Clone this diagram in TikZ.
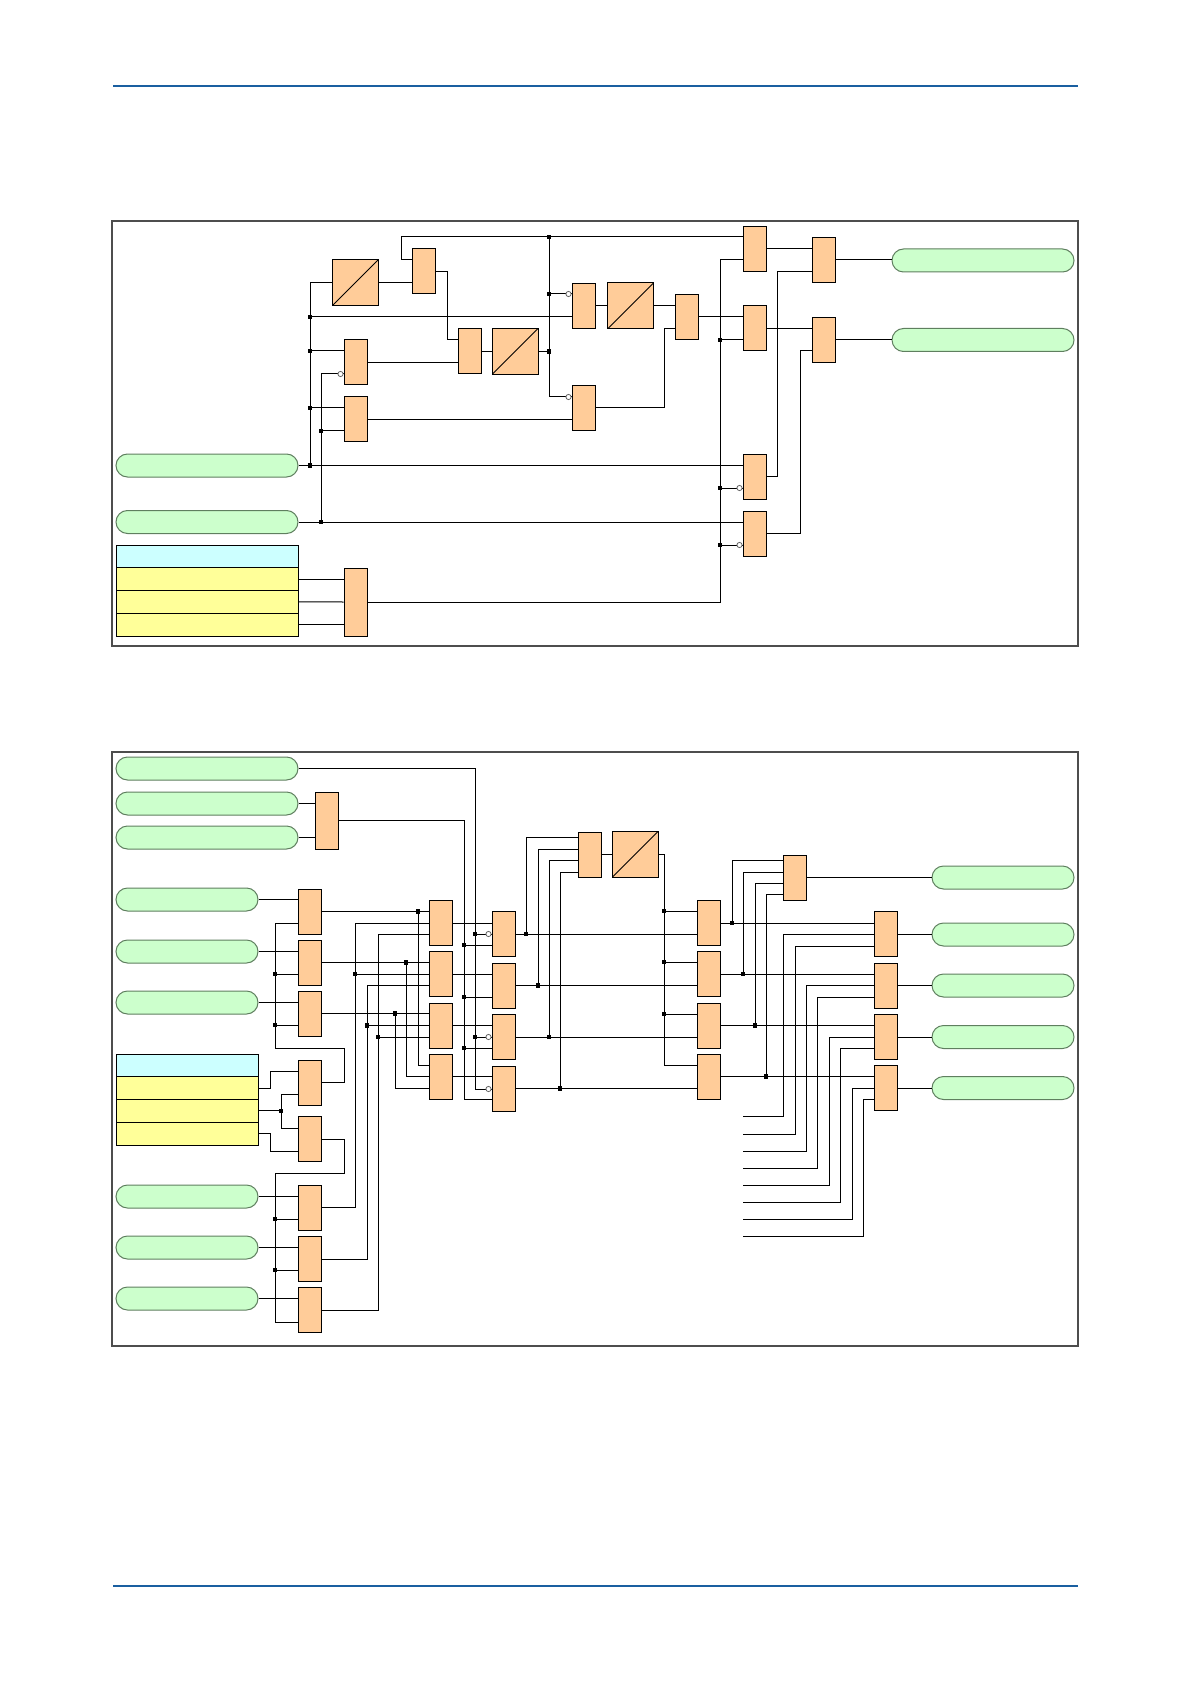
\documentclass[tikz,border=0pt]{standalone}
\usepackage{tikz}
\usetikzlibrary{positioning, shapes.misc}
\usepackage{xcolor}
\definecolor{gatefill}{HTML}{FFCC99}
\definecolor{pillfill}{HTML}{CCFFCC}
\definecolor{pillline}{HTML}{5F7F5F}
\definecolor{headfill}{HTML}{CCFFFF}
\definecolor{rowfill}{HTML}{FFFF99}
\definecolor{rulecol}{HTML}{1A5FA0}
\definecolor{framecol}{HTML}{4D4D4D}

\begin{document}
\begin{tikzpicture}[x=0.5pt, y=-0.5pt, line width=0.5pt,
	gate/.style={draw, fill=gatefill, minimum width=11.5pt, minimum height=22.5pt, inner sep=0pt},
	conv/.style={gate, minimum width=23pt, minimum height=23pt,
		path picture={\draw[line width=0.4pt] (path picture bounding box.south west) -- (path picture bounding box.north east);}},
	pill/.style={rounded rectangle, draw=pillline, fill=pillfill, minimum width=91pt, minimum height=11.5pt, inner sep=0pt},
	spill/.style={pill, minimum width=71pt},
	headrow/.style={draw, fill=headfill, minimum width=91pt, minimum height=11.4pt, inner sep=0pt},
	row/.style={headrow, fill=rowfill},
	dot/.style={rectangle, fill=black, minimum size=2.2pt, inner sep=0pt},
	neg/.style={circle, draw=black!60, fill=white, line width=0.4pt, minimum size=2.6pt, inner sep=0pt, anchor=east}]
	\useasboundingbox (0,0) rectangle (1191,1684);
	
	% page rules and frames
	\draw[rulecol, line width=1.2pt] (113,86) -- (1078,86);
	\draw[rulecol, line width=1.2pt] (113,1586) -- (1078,1586);
	\draw[framecol, line width=1pt] (112,221) rectangle (1078,646);
	\draw[framecol, line width=1pt] (112,752) rectangle (1078,1346);
	
	% ---------------- upper diagram ----------------
	\node[pill] (inA) at (207,465.5) {};
	\node[pill] (inB) at (207,522) {};
	\node[headrow] (hdA) at (207,556.4) {};
	\node[row] (rA1) at (207,579.1) {};
	\node[row] (rA2) at (207,601.9) {};
	\node[row] (rA3) at (207,624.6) {};
	
	\node[conv] (cvA) at (355,283) {};
	\node[gate] (gB) at (423.5,271.5) {};
	\node[gate] (gC) at (469.5,351.5) {};
	\node[conv] (cvB) at (515,351.5) {};
	\node[gate] (gE) at (355.5,362.5) {};
	\node[gate] (gF) at (355.5,419.5) {};
	\node[gate, minimum height=34pt] (gG) at (355.5,602) {};
	\node[gate] (gH) at (583.5,306) {};
	\node[conv] (cvC) at (630.5,306) {};
	\node[gate] (gJ) at (583.5,408) {};
	\node[gate] (gK) at (686.5,317) {};
	\node[gate] (gL) at (754.5,249) {};
	\node[gate] (gM) at (754.5,328.5) {};
	\node[gate] (gN) at (823.5,260) {};
	\node[gate] (gO) at (823.5,340) {};
	\node[gate] (gP) at (754.5,476.5) {};
	\node[gate] (gQ) at (754.5,533.5) {};
	\node[pill] (outA) at (983,260.5) {};
	\node[pill] (outB) at (983,340) {};
	
	\draw (inA.east) -- (gP.west |- inA.east);
	\draw (310,465.5) -- (310,283) -- (cvA.west);
	\draw (310,317) -- (gH.west |- 0,317);
	\draw (310,351) -- (gE.west |- 0,351);
	\draw (310,408) -- (gF.west |- 0,408);
	\draw (inB.east) -- (gQ.west |- inB.east);
	\draw (321,522) -- (321,374) -- (gE.west |- 0,374);
	\draw (321,431) -- (gF.west |- 0,431);
	\draw (cvA.east) -- (gB.west |- cvA.east);
	\draw (gB.east) -- (447,271.5) -- (447,340) -- (gC.west |- 0,340);
	\draw (gE.east) -- (gC.west |- gE.east);
	\draw (gC.east) -- (cvB.west);
	\draw (cvB.east) -- (549,351.5);
	\draw (gB.west |- 0,260) -- (401,260) -- (401,237) -- (gL.west |- 0,237);
	\draw (549,237) -- (549,397) -- (gJ.west |- 0,397);
	\draw (549,294) -- (gH.west |- 0,294);
	\draw (gF.east) -- (gJ.west |- gF.east);
	\draw (gH.east) -- (cvC.west);
	\draw (cvC.east) -- (gK.west |- cvC.east);
	\draw (gJ.east) -- (664,408) -- (664,329) -- (gK.west |- 0,329);
	\draw (gK.east) -- (gM.west |- gK.east);
	\draw (rA1.east) -- (gG.west |- rA1.east);
	\draw (rA2.east) -- (gG.west);
	\draw (rA3.east) -- (gG.west |- rA3.east);
	\draw (gG.east) -- (720,602) -- (720,260) -- (gL.west |- 0,260);
	\draw (720,340) -- (gM.west |- 0,340);
	\draw (720,488) -- (gP.west |- 0,488);
	\draw (720,545) -- (gQ.west |- 0,545);
	\draw (gL.east) -- (gN.west |- gL.east);
	\draw (gM.east) -- (gO.west |- gM.east);
	\draw (gP.east) -- (777,476.5) -- (777,272) -- (gN.west |- 0,272);
	\draw (gQ.east) -- (800,533.5) -- (800,351) -- (gO.west |- 0,351);
	\draw (gN.east) -- (outA.west |- gN.east);
	\draw (gO.east) -- (outB.west |- gO.east);
	
	\node[dot] (jA1) at (310,317) {}; \node[dot] (jA2) at (310,351) {};
	\node[dot] (jA3) at (310,408) {}; \node[dot] (jA4) at (310,465.5) {};
	\node[dot] (jA5) at (321,431) {}; \node[dot] (jA6) at (321,522) {};
	\node[dot] (jA7) at (549,237) {}; \node[dot] (jA8) at (549,294) {};
	\node[dot] (jA9) at (549,351.5) {}; \node[dot] (jA10) at (720,340) {};
	\node[dot] (jA11) at (720,488) {}; \node[dot] (jA12) at (720,545) {};
	
	\node[neg] (nE) at (gE.west |- 0,374) {};
	\node[neg] (nH) at (gH.west |- 0,294) {};
	\node[neg] (nJ) at (gJ.west |- 0,397) {};
	\node[neg] (nP) at (gP.west |- 0,488) {};
	\node[neg] (nQ) at (gQ.west |- 0,545) {};
	
	% ---------------- lower diagram ----------------
	\node[pill] (p1) at (207,768.5) {};
	\node[pill] (p2) at (207,803.5) {};
	\node[pill] (p3) at (207,837.5) {};
	\node[spill] (s1) at (187,899.5) {};
	\node[spill] (s2) at (187,951.5) {};
	\node[spill] (s3) at (187,1002.5) {};
	\node[spill] (s4) at (187,1196.5) {};
	\node[spill] (s5) at (187,1247.5) {};
	\node[spill] (s6) at (187,1298.5) {};
	\node[headrow, minimum width=71pt] (hdB) at (187,1065.4) {};
	\node[row, minimum width=71pt] (rB1) at (187,1088.1) {};
	\node[row, minimum width=71pt] (rB2) at (187,1110.9) {};
	\node[row, minimum width=71pt] (rB3) at (187,1133.6) {};
	
	\node[gate, minimum height=28.5pt] (gOr) at (326.5,820.5) {};
	\node[gate] (T1) at (309.5,911.5) {};
	\node[gate] (T2) at (309.5,962.5) {};
	\node[gate] (T3) at (309.5,1013.5) {};
	\node[gate] (U1) at (309.5,1082.5) {};
	\node[gate] (U2) at (309.5,1139) {};
	\node[gate] (T4) at (309.5,1207.5) {};
	\node[gate] (T5) at (309.5,1259) {};
	\node[gate] (T6) at (309.5,1310) {};
	\node[gate] (V1) at (440.5,923) {};
	\node[gate] (V2) at (440.5,974) {};
	\node[gate] (V3) at (440.5,1025.5) {};
	\node[gate] (V4) at (440.5,1076.5) {};
	\node[gate] (W1) at (503.5,934) {};
	\node[gate] (W2) at (503.5,985.5) {};
	\node[gate] (W3) at (503.5,1037) {};
	\node[gate] (W4) at (503.5,1088.5) {};
	\node[gate] (X) at (589.5,854.5) {};
	\node[conv] (Y) at (635,854.5) {};
	\node[gate] (Z1) at (709,923) {};
	\node[gate] (Z2) at (709,974) {};
	\node[gate] (Z3) at (709,1025.5) {};
	\node[gate] (Z4) at (709,1076.5) {};
	\node[gate] (AA) at (794.5,877.5) {};
	\node[gate] (BB1) at (885.5,934) {};
	\node[gate] (BB2) at (885.5,985.5) {};
	\node[gate] (BB3) at (885.5,1037) {};
	\node[gate] (BB4) at (885.5,1088) {};
	\node[spill] (o1) at (1003,877.5) {};
	\node[spill] (o2) at (1003,934.5) {};
	\node[spill] (o3) at (1003,985.5) {};
	\node[spill] (o4) at (1003,1037) {};
	\node[spill] (o5) at (1003,1088) {};
	\coordinate (f1) at (743,1116); \coordinate (f2) at (743,1134);
	\coordinate (f3) at (743,1151); \coordinate (f4) at (743,1168);
	\coordinate (f5) at (743,1185); \coordinate (f6) at (743,1202);
	\coordinate (f7) at (743,1219); \coordinate (f8) at (743,1236);
	
	\draw (p1.east) -- (475,768.5) -- (475,1089) -- (W4.west |- 0,1089);
	\draw (475,934) -- (W1.west);
	\draw (475,1037) -- (W3.west);
	\draw (p2.east) -- (gOr.west |- p2.east);
	\draw (p3.east) -- (gOr.west |- p3.east);
	\draw (gOr.east) -- (464,820.5) -- (464,1099) -- (W4.west |- 0,1099);
	\draw (464,945) -- (W1.west |- 0,945);
	\draw (464,997) -- (W2.west |- 0,997);
	\draw (464,1048) -- (W3.west |- 0,1048);
	\draw (s1.east) -- (T1.west |- s1.east);
	\draw (s2.east) -- (T2.west |- s2.east);
	\draw (s3.east) -- (T3.west |- s3.east);
	\draw (T1.west |- 0,923) -- (275,923) -- (275,1048) -- (344,1048) -- (344,1082.5) -- (U1.east);
	\draw (275,974) -- (T2.west |- 0,974);
	\draw (275,1025) -- (T3.west |- 0,1025);
	\draw (rB1.east) -- (270,1088.1) -- (270,1071) -- (U1.west |- 0,1071);
	\draw (rB2.east) -- (281,1110.9);
	\draw (U1.west |- 0,1094) -- (281,1094) -- (281,1128) -- (U2.west |- 0,1128);
	\draw (rB3.east) -- (270,1133.6) -- (270,1151) -- (U2.west |- 0,1151);
	\draw (U2.east) -- (344,1139) -- (344,1173) -- (275,1173) -- (275,1322) -- (T6.west |- 0,1322);
	\draw (275,1219) -- (T4.west |- 0,1219);
	\draw (275,1270) -- (T5.west |- 0,1270);
	\draw (s4.east) -- (T4.west |- s4.east);
	\draw (s5.east) -- (T5.west |- s5.east);
	\draw (s6.east) -- (T6.west |- s6.east);
	\draw (T4.east) -- (355,1207.5) -- (355,923) -- (V1.west);
	\draw (355,974) -- (V2.west);
	\draw (T5.east) -- (367,1259) -- (367,985) -- (V2.west |- 0,985);
	\draw (367,1025.5) -- (V3.west);
	\draw (T6.east) -- (378,1310) -- (378,934) -- (V1.west |- 0,934);
	\draw (378,1037) -- (V3.west |- 0,1037);
	\draw (T1.east) -- (V1.west |- T1.east);
	\draw (418,911.5) -- (418,1065) -- (V4.west |- 0,1065);
	\draw (T2.east) -- (V2.west |- T2.east);
	\draw (406,962.5) -- (406,1076.5) -- (V4.west);
	\draw (T3.east) -- (V3.west |- T3.east);
	\draw (395,1013.5) -- (395,1088) -- (V4.west |- 0,1088);
	\draw (V1.east) -- (W1.west |- V1.east);
	\draw (V2.east) -- (W2.west |- V2.east);
	\draw (V3.east) -- (W3.west |- V3.east);
	\draw (V4.east) -- (W4.west |- V4.east);
	\draw (W1.east) -- (Z1.west |- W1.east);
	\draw (526,934) -- (526,837) -- (X.west |- 0,837);
	\draw (W2.east) -- (Z2.west |- W2.east);
	\draw (538,985.5) -- (538,849) -- (X.west |- 0,849);
	\draw (W3.east) -- (Z3.west |- W3.east);
	\draw (549,1037) -- (549,860) -- (X.west |- 0,860);
	\draw (W4.east) -- (Z4.west |- W4.east);
	\draw (560,1088.5) -- (560,872) -- (X.west |- 0,872);
	\draw (X.east) -- (Y.west);
	\draw (Y.east) -- (664,854.5) -- (664,1065) -- (Z4.west |- 0,1065);
	\draw (664,911) -- (Z1.west |- 0,911);
	\draw (664,962) -- (Z2.west |- 0,962);
	\draw (664,1014) -- (Z3.west |- 0,1014);
	\draw (Z1.east) -- (BB1.west |- Z1.east);
	\draw (732,923) -- (732,860) -- (AA.west |- 0,860);
	\draw (Z2.east) -- (BB2.west |- Z2.east);
	\draw (743,974) -- (743,872) -- (AA.west |- 0,872);
	\draw (Z3.east) -- (BB3.west |- Z3.east);
	\draw (755,1025.5) -- (755,883) -- (AA.west |- 0,883);
	\draw (Z4.east) -- (BB4.west |- Z4.east);
	\draw (766,1076.5) -- (766,894) -- (AA.west |- 0,894);
	\draw (f1) -- (783,1116) -- (783,934) -- (BB1.west);
	\draw (f2) -- (795,1134) -- (795,946) -- (BB1.west |- 0,946);
	\draw (f3) -- (806,1151) -- (806,985.5) -- (BB2.west);
	\draw (f4) -- (817,1168) -- (817,997) -- (BB2.west |- 0,997);
	\draw (f5) -- (829,1185) -- (829,1037) -- (BB3.west);
	\draw (f6) -- (840,1202) -- (840,1048) -- (BB3.west |- 0,1048);
	\draw (f7) -- (852,1219) -- (852,1088) -- (BB4.west);
	\draw (f8) -- (863,1236) -- (863,1099) -- (BB4.west |- 0,1099);
	\draw (AA.east) -- (o1.west |- AA.east);
	\draw (BB1.east) -- (o2.west |- BB1.east);
	\draw (BB2.east) -- (o3.west |- BB2.east);
	\draw (BB3.east) -- (o4.west |- BB3.east);
	\draw (BB4.east) -- (o5.west |- BB4.east);
	
	\node[dot] (jB1) at (275,974) {}; \node[dot] (jB2) at (275,1025) {};
	\node[dot] (jB3) at (281,1110.9) {}; \node[dot] (jB4) at (275,1219) {};
	\node[dot] (jB5) at (275,1270) {}; \node[dot] (jB6) at (418,911.5) {};
	\node[dot] (jB7) at (406,962.5) {}; \node[dot] (jB8) at (395,1013.5) {};
	\node[dot] (jB9) at (355,974) {}; \node[dot] (jB10) at (367,1025.5) {};
	\node[dot] (jB11) at (378,1037) {}; \node[dot] (jB12) at (475,934) {};
	\node[dot] (jB13) at (475,1037) {}; \node[dot] (jB14) at (464,945) {};
	\node[dot] (jB15) at (464,997) {}; \node[dot] (jB16) at (464,1048) {};
	\node[dot] (jB17) at (526,934) {}; \node[dot] (jB18) at (538,985.5) {};
	\node[dot] (jB19) at (549,1037) {}; \node[dot] (jB20) at (560,1088.5) {};
	\node[dot] (jB21) at (664,911) {}; \node[dot] (jB22) at (664,962) {};
	\node[dot] (jB23) at (664,1014) {}; \node[dot] (jB24) at (732,923) {};
	\node[dot] (jB25) at (743,974) {}; \node[dot] (jB26) at (755,1025.5) {};
	\node[dot] (jB27) at (766,1076.5) {};
	
	\node[neg] (nW1) at (W1.west) {};
	\node[neg] (nW3) at (W3.west) {};
	\node[neg] (nW4) at (W4.west |- 0,1089) {};
\end{tikzpicture}
\end{document}
